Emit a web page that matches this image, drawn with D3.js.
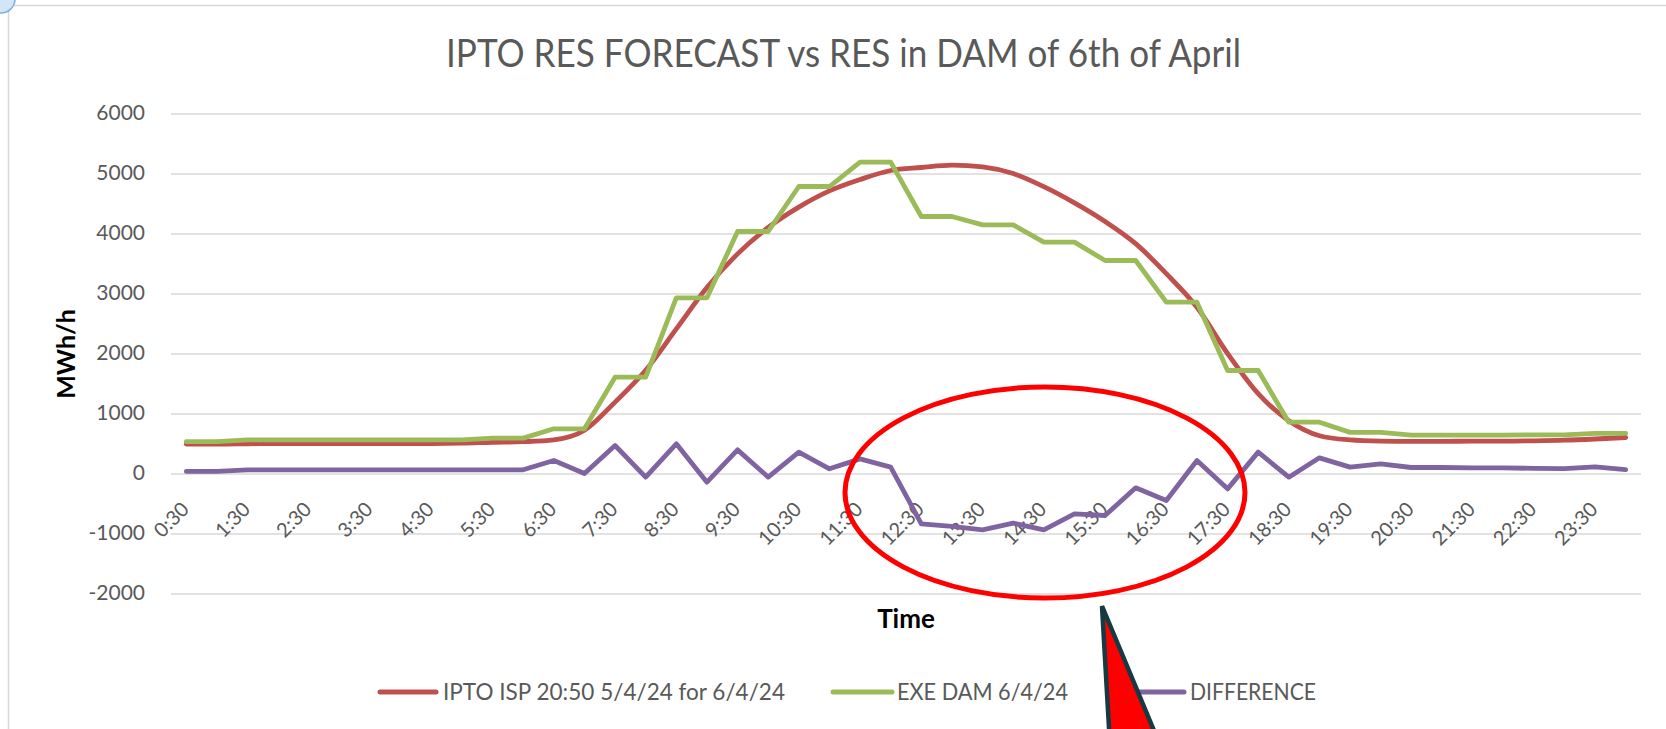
<!DOCTYPE html>
<html>
<head>
<meta charset="utf-8">
<script src="https://cdn.jsdelivr.net/npm/d3@7"></script>
<style>
  html, body { margin: 0; padding: 0; background: #ffffff; }
  svg { display: block; font-family: Lato, "Open Sans", "Liberation Sans", sans-serif; }
</style>
</head>
<body>
<svg id="chart" width="1666" height="729"></svg>
<script>
// ---------------- DATA ----------------
const categories = ["0:30","1:00","1:30","2:00","2:30","3:00","3:30","4:00","4:30","5:00",
  "5:30","6:00","6:30","7:00","7:30","8:00","8:30","9:00","9:30","10:00",
  "10:30","11:00","11:30","12:00","12:30","13:00","13:30","14:00","14:30","15:00",
  "15:30","16:00","16:30","17:00","17:30","18:00","18:30","19:00","19:30","20:00",
  "20:30","21:00","21:30","22:00","22:30","23:00","23:30","24:00"];

const tickLabels = ["0:30","1:30","2:30","3:30","4:30","5:30","6:30","7:30","8:30","9:30",
  "10:30","11:30","12:30","13:30","14:30","15:30","16:30","17:30","18:30","19:30",
  "20:30","21:30","22:30","23:30"];

const yTicks = [-2000, -1000, 0, 1000, 2000, 3000, 4000, 5000, 6000];

const iptoForecast = [490,490,495,500,500,500,500,500,500,505,
  520,530,560,720,1190,1720,2410,3100,3660,4100,
  4440,4710,4900,5050,5100,5140,5110,5000,4780,4510,
  4200,3830,3330,2770,2000,1330,880,630,560,540,
  535,535,540,540,545,555,575,600];

const exeDam = [530,530,560,560,560,560,560,560,560,560,
  590,590,745,745,1605,1605,2928,2928,4033,4033,
  4783,4783,5189,5189,4283,4283,4144,4144,3856,3856,
  3550,3550,2855,2855,1717,1717,855,855,685,685,
  640,640,640,640,645,645,670,670];

const difference = [35,35,60,60,60,60,60,60,60,60,
  62,62,217,0,467,-60,494,-144,394,-60,
  356,78,244,106,-839,-883,-939,-828,-939,-672,
  -700,-239,-450,217,-256,356,-61,261,106,161,
  100,100,95,95,85,80,110,65];

const seriesNames = ["IPTO ISP 20:50 5/4/24 for 6/4/24", "EXE DAM 6/4/24", "DIFFERENCE"];
const seriesColors = ["#C0504D", "#9BBB59", "#8064A2"];

// ---------------- LAYOUT ----------------
const svg = d3.select("#chart");
const plot = { left: 171, right: 1641, top: 113.5, bottom: 593.5 };

const x = d3.scaleBand().domain(categories).range([plot.left, plot.right]).padding(0);
const xc = d => x(d) + x.bandwidth() / 2;
const y = d3.scaleLinear().domain([-2000, 6000]).range([plot.bottom, plot.top]);

// chart frame
svg.append("rect")
  .attr("x", 8.5).attr("y", 5.5).attr("width", 1720).attr("height", 800)
  .attr("fill", "none").attr("stroke", "#d9d9d9").attr("stroke-width", 1.5);

// corner handle
svg.append("circle").attr("cx", 1).attr("cy", -1).attr("r", 14)
  .attr("fill", "#d3e6f7").attr("stroke", "#7fb0dc").attr("stroke-width", 1.5);

// gridlines
svg.append("g")
  .attr("transform", `translate(${plot.left},0)`)
  .call(d3.axisLeft(y).tickValues(yTicks).tickSize(-(plot.right - plot.left)).tickFormat(""))
  .call(g => g.select(".domain").remove())
  .call(g => g.selectAll("line").attr("stroke", "#d9d9d9").attr("stroke-width", 1.6));

// y tick labels
svg.append("g")
  .attr("transform", `translate(${plot.left},0)`)
  .call(d3.axisLeft(y).tickValues(yTicks).tickSize(0).tickPadding(26).tickFormat(d => String(d)))
  .call(g => g.select(".domain").remove())
  .call(g => g.selectAll("text")
    .attr("fill", "#595959").attr("font-size", 21).attr("font-family", "Lato, sans-serif")
    .attr("dy", "0.28em"));

// x tick labels (rotated)
svg.append("g")
  .attr("transform", `translate(0,${y(0)})`)
  .call(d3.axisBottom(x).tickValues(tickLabels).tickSize(0).tickFormat(d => d))
  .call(g => g.select(".domain").remove())
  .call(g => g.selectAll(".tick text")
    .attr("fill", "#595959").attr("font-size", 20).attr("font-family", "Lato, sans-serif")
    .attr("text-anchor", "end")
    .attr("y", 0).attr("dy", 0)
    .attr("transform", "translate(4,37) rotate(-45)"));

// lines
const lineSmooth = d3.line().x((d, i) => xc(categories[i])).y(d => y(d)).curve(d3.curveMonotoneX);
const lineStraight = d3.line().x((d, i) => xc(categories[i])).y(d => y(d));

const seriesData = [iptoForecast, exeDam, difference];
const gens = [lineSmooth, lineStraight, lineStraight];
[2, 0, 1].forEach(k => {
  svg.append("path")
    .attr("d", gens[k](seriesData[k]))
    .attr("fill", "none")
    .attr("stroke", seriesColors[k])
    .attr("stroke-width", 4.8)
    .attr("stroke-linejoin", "round")
    .attr("stroke-linecap", "round");
});

// title
svg.append("text")
  .attr("x", 446).attr("y", 67)
  .attr("font-size", 38).attr("font-weight", 400)
  .attr("fill", "#595959")
  .attr("textLength", 795).attr("lengthAdjust", "spacingAndGlyphs")
  .text("IPTO RES FORECAST vs RES in  DAM of 6th of April");

// axis titles
svg.append("text")
  .attr("transform", "translate(75,354) rotate(-90)")
  .attr("text-anchor", "middle")
  .attr("font-size", 25).attr("font-weight", 700).attr("fill", "#000")
  .text("MWh/h");

svg.append("text")
  .attr("x", (plot.left + plot.right) / 2).attr("y", 628)
  .attr("text-anchor", "middle")
  .attr("font-size", 26).attr("font-weight", 700).attr("fill", "#000")
  .text("Time");

// legend
const legendItems = [
  { sx0: 380, sx1: 436, tx: 443, tw: 342 },
  { sx0: 833, sx1: 892, tx: 897, tw: 171 },
  { sx0: 1137, sx1: 1184, tx: 1190, tw: 126 }
];
const legendY = 692;
legendItems.forEach((it, k) => {
  svg.append("line")
    .attr("x1", it.sx0).attr("x2", it.sx1).attr("y1", legendY).attr("y2", legendY)
    .attr("stroke", seriesColors[k]).attr("stroke-width", 5).attr("stroke-linecap", "round");
  svg.append("text")
    .attr("x", it.tx).attr("y", legendY + 8)
    .attr("font-size", 23).attr("fill", "#595959")
    .attr("textLength", it.tw).attr("lengthAdjust", "spacingAndGlyphs")
    .text(seriesNames[k]);
});

// annotations
svg.append("ellipse")
  .attr("cx", 1045).attr("cy", 492.5).attr("rx", 200).attr("ry", 105.5)
  .attr("fill", "none").attr("stroke", "#ff0000").attr("stroke-width", 5);

svg.append("path")
  .attr("d", "M1102,606 L1110,745 L1160,745 Z")
  .attr("fill", "#ff0000").attr("stroke", "#163a41").attr("stroke-width", 4.5)
  .attr("stroke-linejoin", "miter");
</script>
</body>
</html>
